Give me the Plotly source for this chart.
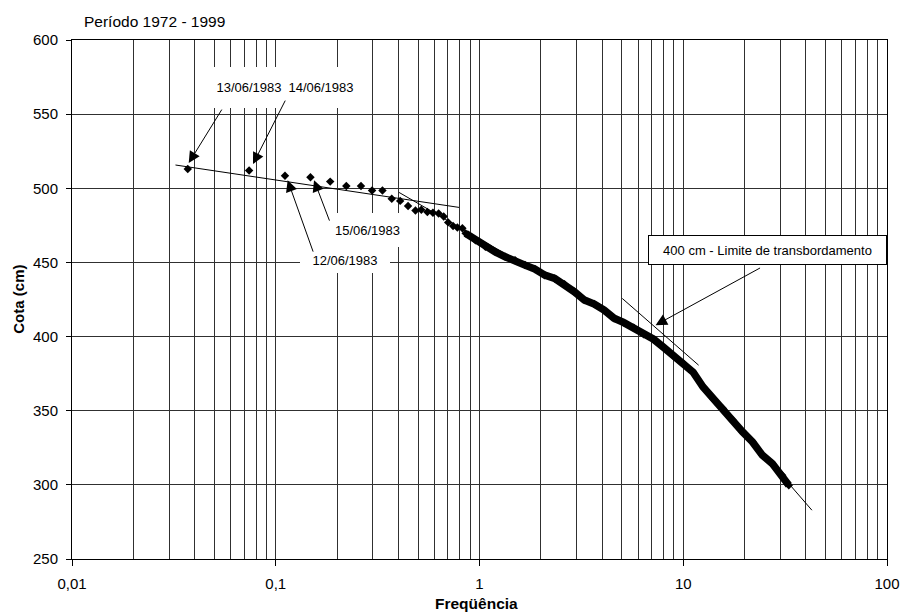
import math
import plotly.graph_objects as go

# ---------------- data ----------------
# isolated highest events (frequency, cota in cm)
freq_top = [0.037, 0.074, 0.111, 0.148, 0.185, 0.222, 0.262, 0.297, 0.334, 0.371,
            0.408, 0.446, 0.485, 0.518, 0.555, 0.591, 0.630, 0.667, 0.702, 0.742,
            0.779, 0.824]
cota_top = [513, 512, 508.5, 507.5, 504.5, 501.5, 501.5, 498.5, 498.5, 493, 491.5,
            488, 485, 485.5, 484, 483.5, 483, 481, 477, 474.5, 473.5, 473]

# dense part of the series (looks like a thick band of markers)
freq_dense = [0.855, 0.956, 1.069, 1.196, 1.337, 1.495, 1.672, 1.870, 2.091, 2.338,
              2.615, 2.924, 3.270, 3.657, 4.089, 4.573, 5.113, 5.718, 6.394, 7.151,
              7.997, 8.942, 10.0, 11.18, 12.51, 13.98, 15.64, 17.49, 19.56, 21.87,
              24.45, 27.35, 30.58, 32.96]
cota_dense = [469.6, 465.0, 460.5, 457.1, 453.8, 451.5, 448.2, 445.5, 441.4, 439.2,
              435.3, 430.2, 424.6, 421.9, 417.8, 412.4, 409.4, 406.0, 401.6, 398.2,
              392.8, 387.1, 382.0, 376.0, 366.0, 358.2, 351.5, 343.6, 335.7, 328.9,
              320.0, 314.4, 306.5, 299.7]

# fitted trend segments
trend_a_x = [0.0322, 0.794]
trend_a_y = [515.7, 487.1]
trend_b_x = [0.403, 1.337]
trend_b_y = [497.2, 455.8]
trend_c_x = [5.02, 11.9]
trend_c_y = [425.7, 380.7]
trend_d_x = [27.35, 42.8]
trend_d_y = [313.7, 282.9]

x_tick_vals = [0.01, 0.1, 1, 10, 100]
x_tick_text = ["0,01", "0,1", "1", "10", "100"]
y_tick_vals = [250, 300, 350, 400, 450, 500, 550, 600]

title_text = "Período 1972 - 1999"
x_title = "Freqüência"
y_title = "Cota (cm)"

FONT = "Liberation Sans, Arial, sans-serif"
GRID = "#303030"

minor_vals = [m * 10 ** k for k in range(-2, 2) for m in range(2, 10)]

fig = go.Figure()

for tx, ty in [(trend_a_x, trend_a_y), (trend_b_x, trend_b_y),
               (trend_c_x, trend_c_y), (trend_d_x, trend_d_y)]:
    fig.add_trace(go.Scatter(x=tx, y=ty, mode="lines",
                             line=dict(color="black", width=1),
                             showlegend=False, hoverinfo="skip"))

fig.add_trace(go.Scatter(x=freq_top, y=cota_top, mode="markers",
                         marker=dict(symbol="diamond", size=6.5, color="black",
                                     line=dict(width=0)),
                         showlegend=False))
fig.add_trace(go.Scatter(x=freq_dense, y=cota_dense, mode="lines+markers",
                         line=dict(color="black", width=7.5),
                         marker=dict(symbol="diamond", size=6.5, color="black",
                                     line=dict(width=0)),
                         showlegend=False))

ann = []
# white label boxes
labels = [
    ("13/06/1983", -1.1335, 567.9, 74, 41, 0, "rgba(0,0,0,0)"),
    ("14/06/1983", -0.7767, 567.9, 72, 41, 0, "rgba(0,0,0,0)"),
    ("15/06/1983", -0.5505, 471.8, 75, 34, 0, "rgba(0,0,0,0)"),
    ("12/06/1983", -0.6602, 451.6, 90, 26, 0, "rgba(0,0,0,0)"),
    ("400 cm - Limite de transbordamento", 1.4150, 458.3, 237, 28, 1, "black"),
]
for text, lx, yy, w, h, bw, bc in labels:
    ann.append(dict(x=lx, y=yy, xref="x", yref="y", text=text, showarrow=False,
                    bgcolor="white", width=w, height=h, borderpad=0,
                    borderwidth=bw, bordercolor=bc,
                    font=dict(family=FONT, size=13, color="black")))
# arrows: head in data coords (log10 for x), tail offset in pixels
arrows = [(-1.4272, 517.0, 34, -55), (-1.1117, 516.3, 33, -65),
          (-0.9417, 505.5, 26, 73), (-0.8121, 505.5, 16, 42),
          (0.8641, 407.7, 106, -58)]
for hx, hy, ax, ay in arrows:
    ann.append(dict(x=hx, y=hy, xref="x", yref="y", text="", showarrow=True,
                    ax=ax, ay=ay, arrowhead=2, arrowsize=2.3, arrowwidth=1,
                    arrowcolor="black", standoff=0, startstandoff=0))

ann.append(dict(text=title_text, xref="paper", yref="paper", x=0.012, y=1.0366,
                xanchor="left", yanchor="middle", showarrow=False,
                font=dict(family=FONT, size=15.5, color="black")))
ann.append(dict(text="<b>%s</b>" % x_title, xref="paper", yref="paper", x=0.4958,
                y=-0.0867, xanchor="center", yanchor="middle", showarrow=False,
                font=dict(family=FONT, size=15.5, color="black")))
ann.append(dict(text="<b>%s</b>" % y_title, xref="paper", yref="paper", x=-0.066,
                y=0.5, xanchor="center", yanchor="middle", showarrow=False,
                textangle=-90, font=dict(family=FONT, size=15, color="black")))

fig.update_layout(
    width=912, height=615, autosize=False,
    margin=dict(l=72, r=15, t=40, b=56),
    paper_bgcolor="white", plot_bgcolor="white",
    font=dict(family=FONT, size=15, color="black"),
    annotations=ann,
    showlegend=False,
)
fig.update_xaxes(type="log", range=[-2, 2], tickvals=x_tick_vals, ticktext=x_tick_text,
                 ticks="outside", ticklen=6, tickcolor="black", ticklabelstandoff=5,
                 showgrid=True, gridcolor=GRID, gridwidth=1,
                 minor=dict(tickvals=minor_vals, showgrid=True, gridcolor=GRID,
                            gridwidth=1, ticks=""),
                 showline=True, linecolor="black", linewidth=1, mirror=True,
                 zeroline=False, tickfont=dict(family=FONT, size=15))
fig.update_yaxes(range=[250, 600], tickvals=y_tick_vals, ticks="outside", ticklen=5,
                 tickcolor="black", ticklabelstandoff=5,
                 showgrid=True, gridcolor=GRID, gridwidth=1,
                 showline=True, linecolor="black", linewidth=1, mirror=True,
                 zeroline=False, tickfont=dict(family=FONT, size=15))

fig.write_html(
    "out.html",
    config={"responsive": False, "displayModeBar": False},
    post_script="document.body.style.margin='0';document.body.style.overflow='hidden';",
)
